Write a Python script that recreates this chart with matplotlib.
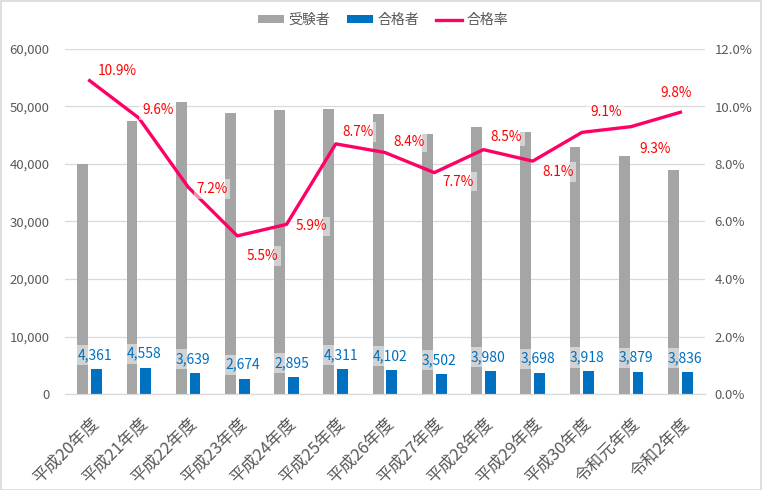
import matplotlib
matplotlib.use('Agg')
import matplotlib.pyplot as plt
from matplotlib.patches import Rectangle
from matplotlib.ticker import FuncFormatter, MultipleLocator
import numpy as np

plt.rcParams['font.family'] = ['Noto Sans CJK JP', 'DejaVu Sans']

# データ
years = ['平成20年度', '平成21年度', '平成22年度', '平成23年度', '平成24年度', '平成25年度',
         '平成26年度', '平成27年度', '平成28年度', '平成29年度', '平成30年度', '令和元年度', '令和2年度']
examinees = [40000, 47500, 50800, 48900, 49400, 49600, 48700, 45200, 46400, 45600, 43000, 41400, 39000]
passers = [4361, 4558, 3639, 2674, 2895, 4311, 4102, 3502, 3980, 3698, 3918, 3879, 3836]
pass_rate = [10.9, 9.6, 7.2, 5.5, 5.9, 8.7, 8.4, 7.7, 8.5, 8.1, 9.1, 9.3, 9.8]

# ラベル位置 (pixel offset)
rate_offsets = [(28, 10), (19, 8), (24, -2), (25, -20), (25, -2), (22, 12), (24, 10),
                (24, -9), (23, 13), (25, -11), (24, 20), (24, -22), (-4, 19)]

GRAY = '#A5A5A5'
BLUE = '#0070C0'
PINK = '#FF0066'
TXT = '#595959'
GRID = '#D9D9D9'

fig = plt.figure(figsize=(7.63, 4.90), dpi=100)
ax = fig.add_axes([65/763, 1 - 394/490, 640/763, 345/490])
ax2 = ax.twinx()

x = np.arange(len(years))
w = 0.22
ax.bar(x - 0.14, examinees, w, color=GRAY, label='受験者', zorder=2)
ax.bar(x + 0.14, passers, w, color=BLUE, label='合格者', zorder=2)

for xi, v in zip(x, passers):
    ax.annotate(f'{v:,}', (xi, v), xytext=(5, 14), textcoords='offset pixels',
                ha='center', va='center', color=BLUE, fontsize=10, zorder=3,
                bbox=dict(boxstyle='square,pad=0.22', facecolor='white', alpha=0.5, edgecolor='none'))

line, = ax2.plot(x, pass_rate, color=PINK, lw=2.4, label='合格率', zorder=3)
for xi, v, (dx, dy) in zip(x, pass_rate, rate_offsets):
    ax2.annotate(f'{v:.1f}%', (xi, v), xytext=(dx, dy), textcoords='offset pixels',
                 ha='center', va='center', color='#FF0000', fontsize=9.8, zorder=4,
                 bbox=dict(boxstyle='square,pad=0.2', facecolor='white', alpha=0.5, edgecolor='none'))

ax.set_xlim(-0.5, len(years) - 0.5)
ax.set_ylim(0, 60000)
ax2.set_ylim(0, 12)
ax.yaxis.set_major_locator(MultipleLocator(10000))
ax2.yaxis.set_major_locator(MultipleLocator(2))
ax.yaxis.set_major_formatter(FuncFormatter(lambda v, p: f'{int(v):,}'))
ax2.yaxis.set_major_formatter(FuncFormatter(lambda v, p: f'{v:.1f}%'))
ax.grid(axis='y', color=GRID, lw=0.9, zorder=0)
ax.set_axisbelow(True)

ax.set_xticks(x)
ax.set_xticklabels(years, rotation=45, ha='right', rotation_mode='anchor')
ax.tick_params(axis='x', length=0, pad=15, labelsize=12, colors=TXT)
ax.tick_params(axis='y', length=0, pad=11, labelsize=9.5, colors=TXT)
ax2.tick_params(axis='y', length=0, pad=7, labelsize=9.5, colors=TXT)

for a in (ax, ax2):
    for s in ('top', 'left', 'right'):
        a.spines[s].set_visible(False)
    a.spines['bottom'].set_color(GRID)

h1, l1 = ax.get_legend_handles_labels()
fig.legend(h1 + [line], l1 + ['合格率'], loc='center', bbox_to_anchor=(383/763, 1 - 20/490),
           ncol=3, frameon=False, fontsize=10, labelcolor=TXT, handlelength=1.9,
           handleheight=0.5, handletextpad=0.3, columnspacing=1.2)

fig.patches.append(Rectangle((0.001, 0.001), 0.997, 0.997, transform=fig.transFigure,
                             fill=False, edgecolor=GRID, lw=1.2))

plt.savefig('out.png', dpi=100, facecolor='white')
